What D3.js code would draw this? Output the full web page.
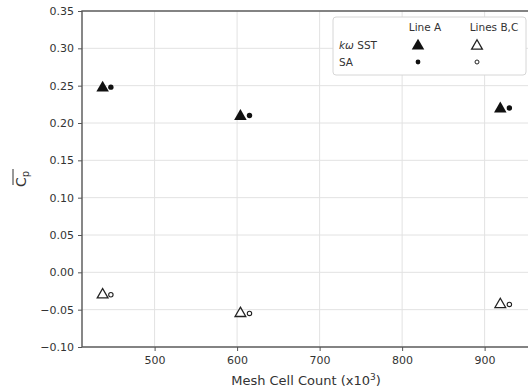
<!DOCTYPE html>
<html>
<head>
<meta charset="utf-8">
<script src="https://cdn.jsdelivr.net/npm/d3@7"></script>
<style>
  body { margin: 0; background: #fff; }
  text { font-family: "DejaVu Sans", sans-serif; fill: #333; }
</style>
</head>
<body>
<div id="chart"></div>
<script>
// mesh cell count (x10^3) per case, and mean Cp
const sstMesh = [437, 604, 919];
const saMesh = [447, 615, 930];
const sstLineA = [0.247, 0.209, 0.219];
const saLineA = [0.248, 0.210, 0.220];
const sstLinesBC = [-0.030, -0.055, -0.043];
const saLinesBC = [-0.030, -0.055, -0.043];
const xTicks = [500, 600, 700, 800, 900];
const yTicks = [-0.10, -0.05, 0.00, 0.05, 0.10, 0.15, 0.20, 0.25, 0.30, 0.35];

const width = 528;
const height = 392;
const margin = {top: 11, right: -2, bottom: 45, left: 82};

const svg = d3.select('#chart')
  .append('svg')
  .attr('width', width)
  .attr('height', height);

const x = d3.scaleLinear()
  .domain([412, 955])
  .range([margin.left, width - margin.right]);

const y = d3.scaleLinear()
  .domain([-0.10, 0.35])
  .range([height - margin.bottom, margin.top]);

// grid
svg.append('g')
  .selectAll('line')
  .data(xTicks)
  .enter()
  .append('line')
  .attr('x1', d => x(d)).attr('x2', d => x(d))
  .attr('y1', y(0.35)).attr('y2', y(-0.10))
  .attr('stroke', '#e2e2e2');
svg.append('g')
  .selectAll('line')
  .data(yTicks)
  .enter()
  .append('line')
  .attr('x1', x(412)).attr('x2', x(955))
  .attr('y1', d => y(d)).attr('y2', d => y(d))
  .attr('stroke', '#e2e2e2');

// axes
const xAxis = svg.append('g')
  .attr('transform', 'translate(0,' + y(-0.10) + ')')
  .call(d3.axisBottom(x).tickValues(xTicks).tickSize(4).tickPadding(5).tickFormat(d3.format('d')));
const yAxis = svg.append('g')
  .attr('transform', 'translate(' + x(412) + ',0)')
  .call(d3.axisLeft(y).tickValues(yTicks).tickSize(4).tickPadding(4)
    .tickFormat(d => d3.format('.2f')(d).replace('-', '\u2212')));
[xAxis, yAxis].forEach(a => {
  a.select('.domain').remove();
  a.selectAll('line').attr('stroke', '#555');
  a.selectAll('text').style('font-size', '11px').attr('fill', '#333');
});

// frame
svg.append('rect')
  .attr('x', x(412)).attr('y', y(0.35))
  .attr('width', x(955) - x(412)).attr('height', y(-0.10) - y(0.35))
  .attr('fill', 'none')
  .attr('stroke', '#555')
  .attr('stroke-width', 1.4);

// labels
svg.append('text')
  .attr('x', (x(412) + x(955)) / 2)
  .attr('y', 385)
  .attr('text-anchor', 'middle')
  .style('font-size', '13px')
  .html('Mesh Cell Count (x10<tspan dy="-5" font-size="9">3</tspan><tspan dy="5">)</tspan>');

const yl = svg.append('g')
  .attr('transform', 'translate(26,' + ((y(0.35) + y(-0.10)) / 2) + ') rotate(-90)');
yl.append('text')
  .attr('text-anchor', 'middle')
  .style('font-size', '14px')
  .html('C<tspan dy="3" font-size="10">p</tspan>');
yl.append('line')
  .attr('x1', -6).attr('x2', 10)
  .attr('y1', -13).attr('y2', -13)
  .attr('stroke', '#333')
  .attr('stroke-width', 1);

// markers
const tri = d3.symbol().type(d3.symbolTriangle).size(68);
const triOpen = d3.symbol().type(d3.symbolTriangle).size(50);

function drawSeries(xs, ys, kind) {
  const g = svg.append('g');
  const pts = xs.map((d, i) => ({x: d, y: ys[i]}));
  if (kind === 'tri') {
    g.selectAll('path').data(pts).enter().append('path')
      .attr('d', tri)
      .attr('transform', d => 'translate(' + x(d.x) + ',' + y(d.y) + ')')
      .attr('fill', '#111');
  } else if (kind === 'triOpen') {
    g.selectAll('path').data(pts).enter().append('path')
      .attr('d', triOpen)
      .attr('transform', d => 'translate(' + x(d.x) + ',' + y(d.y) + ')')
      .attr('fill', 'none').attr('stroke', '#222').attr('stroke-width', 1.3);
  } else if (kind === 'dot') {
    g.selectAll('circle').data(pts).enter().append('circle')
      .attr('cx', d => x(d.x)).attr('cy', d => y(d.y)).attr('r', 2.7)
      .attr('fill', '#111');
  } else {
    g.selectAll('circle').data(pts).enter().append('circle')
      .attr('cx', d => x(d.x)).attr('cy', d => y(d.y)).attr('r', 2.2)
      .attr('fill', 'none').attr('stroke', '#222').attr('stroke-width', 1.1);
  }
}
drawSeries(sstMesh, sstLineA, 'tri');
drawSeries(saMesh, saLineA, 'dot');
drawSeries(sstMesh, sstLinesBC, 'triOpen');
drawSeries(saMesh, saLinesBC, 'dotOpen');

// legend
const lg = svg.append('g').attr('transform', 'translate(333,17)');
lg.append('rect')
  .attr('width', 193).attr('height', 58)
  .attr('rx', 3)
  .attr('fill', '#fff')
  .attr('stroke', '#d6d6d6');
lg.append('text').attr('x', 92).attr('y', 14).attr('text-anchor', 'middle')
  .style('font-size', '10.5px').text('Line A');
lg.append('text').attr('x', 161).attr('y', 14).attr('text-anchor', 'middle')
  .style('font-size', '10.5px').text('Lines B,C');
lg.append('text').attr('x', 6).attr('y', 32)
  .style('font-size', '10.5px')
  .html('<tspan font-style="italic">kω</tspan> SST');
lg.append('text').attr('x', 6).attr('y', 49)
  .style('font-size', '10.5px').text('SA');
lg.append('path').attr('d', tri).attr('transform', 'translate(85,29)').attr('fill', '#111');
lg.append('path').attr('d', triOpen).attr('transform', 'translate(144,29)')
  .attr('fill', 'none').attr('stroke', '#222').attr('stroke-width', 1.3);
lg.append('circle').attr('cx', 85).attr('cy', 45).attr('r', 2.4).attr('fill', '#111');
lg.append('circle').attr('cx', 144).attr('cy', 45).attr('r', 2)
  .attr('fill', 'none').attr('stroke', '#222').attr('stroke-width', 1);
</script>
</body>
</html>
